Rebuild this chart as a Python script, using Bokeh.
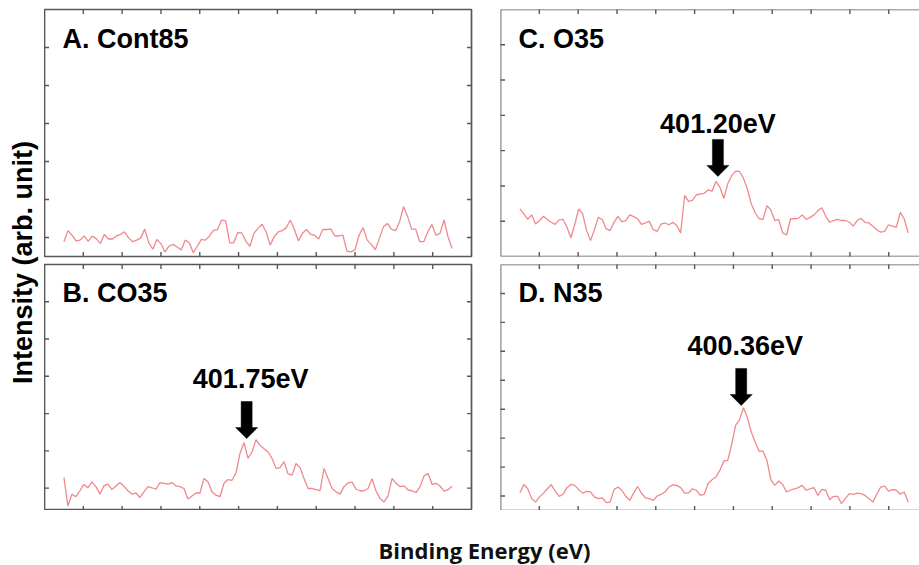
import numpy as np
from bokeh.plotting import figure
from bokeh.models import Range1d, Span
from bokeh.layouts import row, column
from bokeh.embed import file_html
from bokeh.resources import INLINE
from bokeh.core.properties import value

# ---------------- data ----------------
panel_titles = ["A. Cont85", "B. CO35", "C. O35", "D. N35"]

intensity_A = [
    -0.11, 0.18, 0.06, -0.09, -0.07, 0.04, -0.10, 0.04, -0.03, -0.16,
    0.08, -0.04, -0.04, 0.04, 0.08, 0.15, -0.01, -0.11, -0.07, -0.01,
    0.22, -0.14, -0.31, -0.05, -0.16, -0.38, -0.23, -0.18, -0.25, -0.33,
    -0.07, -0.14, -0.40, -0.23, -0.05, -0.07, 0.04, 0.19, 0.21, 0.46,
    0.44, -0.14, -0.14, 0.13, 0.12, -0.10, -0.23, 0.11, 0.24, 0.35,
    0.15, -0.20, 0.02, 0.15, 0.18, 0.26, 0.46, 0.21, -0.09, 0.11,
    0.21, 0.08, 0.06, -0.04, 0.21, 0.21, 0.22, 0.04, 0.04, 0.06,
    -0.36, -0.38, -0.32, 0.06, 0.26, -0.07, -0.18, -0.32, -0.03, 0.28,
    0.37, 0.22, 0.18, 0.41, 0.81, 0.55, 0.22, 0.22, -0.11, -0.11,
    0.15, 0.34, 0.06, 0.11, 0.46, 0.02, -0.29,
]
intensity_B = [
    0.29, -0.48, -0.16, -0.23, -0.07, 0.10, 0.01, 0.17, 0.04, -0.16,
    0.06, 0.11, -0.04, 0.06, 0.15, 0.05, -0.07, -0.16, -0.13, -0.25,
    -0.10, 0.04, 0.01, -0.03, 0.15, 0.13, 0.11, 0.15, 0.06, 0.04,
    -0.01, -0.29, -0.21, -0.13, -0.13, 0.26, 0.17, -0.10, -0.19, -0.23,
    0.13, 0.23, 0.21, 0.41, 0.93, 1.22, 0.80, 0.97, 1.30, 1.15,
    1.06, 0.97, 0.80, 0.53, 0.55, 0.71, 0.38, 0.35, 0.66, 0.55,
    0.26, -0.01, -0.01, -0.04, -0.07, 0.53, 0.26, -0.01, -0.10, -0.16,
    0.04, 0.14, 0.16, -0.03, -0.07, -0.07, -0.01, 0.25, -0.08, -0.28,
    -0.37, -0.21, 0.26, 0.13, 0.04, 0.06, -0.05, -0.07, -0.12, 0.04,
    0.33, 0.39, 0.10, 0.13, 0.05, -0.08, -0.04, 0.05,
]
intensity_C = [
    0.35, 0.21, 0.05, 0.18, -0.08, 0.02, 0.14, 0.05, -0.03, -0.09,
    0.04, 0.05, -0.17, -0.47, -0.08, 0.35, 0.21, -0.26, -0.55, -0.24,
    0.11, 0.05, -0.22, -0.26, -0.03, 0.14, -0.01, 0.02, 0.18, 0.13,
    0.07, -0.09, -0.05, 0.00, -0.24, -0.29, -0.08, -0.05, -0.10, -0.03,
    -0.12, -0.33, 0.73, 0.56, 0.59, 0.75, 0.77, 0.79, 0.89, 0.85,
    1.13, 0.96, 0.65, 1.06, 1.29, 1.42, 1.41, 1.22, 0.92, 0.49,
    0.24, 0.07, 0.05, 0.44, 0.32, 0.02, 0.05, -0.33, -0.39, 0.07,
    0.07, 0.08, 0.18, 0.05, 0.11, 0.18, 0.30, 0.38, 0.14, -0.03,
    0.02, 0.05, 0.02, 0.02, -0.03, -0.14, 0.02, 0.08, -0.03, -0.05,
    -0.14, -0.24, -0.31, -0.29, -0.10, -0.14, -0.17, 0.25, 0.07, -0.33,
]
intensity_D = [
    0.11, 0.40, 0.25, -0.09, -0.21, -0.03, 0.10, 0.25, 0.40, 0.16,
    -0.01, 0.06, 0.29, 0.40, 0.37, 0.22, 0.10, 0.16, 0.14, -0.03,
    -0.09, -0.06, -0.23, -0.21, 0.22, 0.31, 0.20, -0.01, -0.15, 0.10,
    0.33, 0.10, -0.06, -0.09, -0.15, 0.00, 0.06, 0.14, 0.31, 0.39,
    0.37, 0.29, 0.10, 0.10, 0.25, 0.20, 0.02, 0.06, 0.43, 0.56,
    0.66, 0.89, 1.21, 1.23, 1.78, 2.44, 2.63, 3.05, 2.72, 2.21,
    1.86, 1.55, 1.55, 1.23, 0.56, 0.37, 0.52, 0.40, 0.14, 0.20,
    0.25, 0.29, 0.37, 0.20, 0.25, 0.29, 0.02, 0.23, 0.20, -0.13,
    -0.01, -0.01, -0.26, -0.09, 0.08, 0.06, 0.10, 0.08, 0.02, -0.09,
    -0.21, 0.06, 0.31, 0.34, 0.17, 0.22, 0.20, 0.06, 0.14, -0.21,
]

# binding-energy sampling window of the spectra (eV, high -> low)
energy_first = 408.34
energy_last = 394.34

peak_labels = [None, "401.75eV", "401.20eV", "400.36eV"]
peak_energy = [None, 401.75, 401.20, 400.36]
peak_tip = [None, 1.33, 1.27, 3.13]

x_ticks = [407.64, 406.24, 404.84, 403.44, 402.04, 400.64, 399.24, 397.84, 396.44, 395.04]
y_ticks = [[0, 1, 2, 3, 4, 5], [0, 1, 2, 3, 4, 5], [0, 1, 2, 3, 4, 5], [0, 1, 2, 3, 4, 5, 6, 7]]
y_limits = [(-0.5, 6.0), (-0.6, 6.0), (-1.0, 6.0), (-0.5, 8.0)]

x_left = 409.04
x_right_full = 393.64
x_right_clipped = 393.93

y_title = "Intensity (arb. unit)"
x_title = "Binding Energy (eV)"

# ---------------- style ----------------
FRAME = "#575757"
LINE = "#f0898c"
TXT_FONT = value("Liberation Sans")
BIG = "27px"
LABEL_OFFSETS = [None, (4, 60), (0, 52), (4, 59)]


def make_panel(i, right_col, top_row):
    fw = 419 if right_col else 427
    fh = 247 if top_row else 246
    xr = Range1d(x_left, x_right_clipped if right_col else x_right_full)
    yr = Range1d(*y_limits[i])
    p = figure(
        frame_width=fw, frame_height=fh, x_range=xr, y_range=yr,
        output_backend="svg", toolbar_location=None,
        x_axis_location=None, y_axis_location=None,
        min_border_left=15 if right_col else 0,
        min_border_right=0 if right_col else 14,
        min_border_top=9 if top_row else 4,
        min_border_bottom=4 if top_row else 0,
        outline_line_color=None if right_col else FRAME,
        outline_line_width=1.7,
    )
    p.grid.visible = False
    if right_col:
        for loc, dim in ((x_left, "height"), (yr.end, "width"), (yr.start, "width")):
            p.add_layout(Span(location=loc, dimension=dim, line_color=FRAME, line_width=1.7))

    # inward ticks on the frame (half of each dash is clipped by the frame)
    nx = len(x_ticks)
    tick_style = dict(marker="dash", size=9, line_color=FRAME, line_width=1.4)
    p.scatter(x=x_ticks, y=[yr.end] * nx, angle=np.pi / 2, **tick_style)
    p.scatter(x=x_ticks, y=[yr.start] * nx, angle=np.pi / 2, **tick_style)
    ny = len(y_ticks[i])
    p.scatter(x=[xr.start] * ny, y=y_ticks[i], **tick_style)
    if not right_col:
        p.scatter(x=[xr.end] * ny, y=y_ticks[i], **tick_style)

    y = [intensity_A, intensity_B, intensity_C, intensity_D][i]
    energy = np.linspace(energy_first, energy_last, len(y))
    p.line(energy, y, line_color=LINE, line_width=1.3)

    p.text(x=[x_left], y=[y_limits[i][1]], text=[panel_titles[i]],
           x_offset=18, y_offset=29 if top_row else 28,
           text_baseline="alphabetic", text_align="left",
           text_font=TXT_FONT, text_font_style="bold", text_font_size=BIG,
           text_color="black")

    if peak_labels[i] is not None:
        e, t = peak_energy[i], peak_tip[i]
        xpx = (xr.start - xr.end) / fw
        ypx = (yr.end - yr.start) / fh
        shape = [(0, 0), (11, 11), (5.5, 11), (5.5, 37), (-5.5, 37), (-5.5, 11), (-11, 11)]
        xs = [e - dx * xpx for dx, dy in shape]
        ys = [t + dy * ypx for dx, dy in shape]
        p.patch(xs, ys, fill_color="black", line_color="black", line_width=0.5)
        ox, oy = LABEL_OFFSETS[i]
        p.text(x=[e], y=[t], text=[peak_labels[i]], x_offset=ox, y_offset=-oy,
               text_align="center", text_baseline="alphabetic",
               text_font=TXT_FONT, text_font_style="bold", text_font_size=BIG,
               text_color="black")
    return p


pA = make_panel(0, right_col=False, top_row=True)
pC = make_panel(2, right_col=True, top_row=True)
pB = make_panel(1, right_col=False, top_row=False)
pD = make_panel(3, right_col=True, top_row=False)

ylab = figure(width=44, height=510, x_range=Range1d(0, 44), y_range=Range1d(0, 510),
              min_border=0, x_axis_location=None, y_axis_location=None,
              outline_line_color=None, toolbar_location=None, output_backend="svg")
ylab.grid.visible = False
ylab.text(x=[22.5], y=[248], text=[y_title], angle=np.pi / 2,
          text_align="center", text_baseline="alphabetic",
          text_font=TXT_FONT, text_font_style="bold", text_font_size=BIG,
          text_color="black")

xlab = figure(width=919, height=55, x_range=Range1d(0, 919), y_range=Range1d(0, 55),
              min_border=0, x_axis_location=None, y_axis_location=None,
              outline_line_color=None, toolbar_location=None, output_backend="svg")
xlab.grid.visible = False
xlab.text(x=[484], y=[15.5], text=[x_title], text_align="center", text_baseline="alphabetic",
          text_font=value("Open Sans"), text_font_style="bold", text_font_size="22px",
          text_color="#111111")

layout = column(row(ylab, column(row(pA, pC), row(pB, pD))), xlab)

open("out.html", "w").write(file_html(layout, INLINE))
